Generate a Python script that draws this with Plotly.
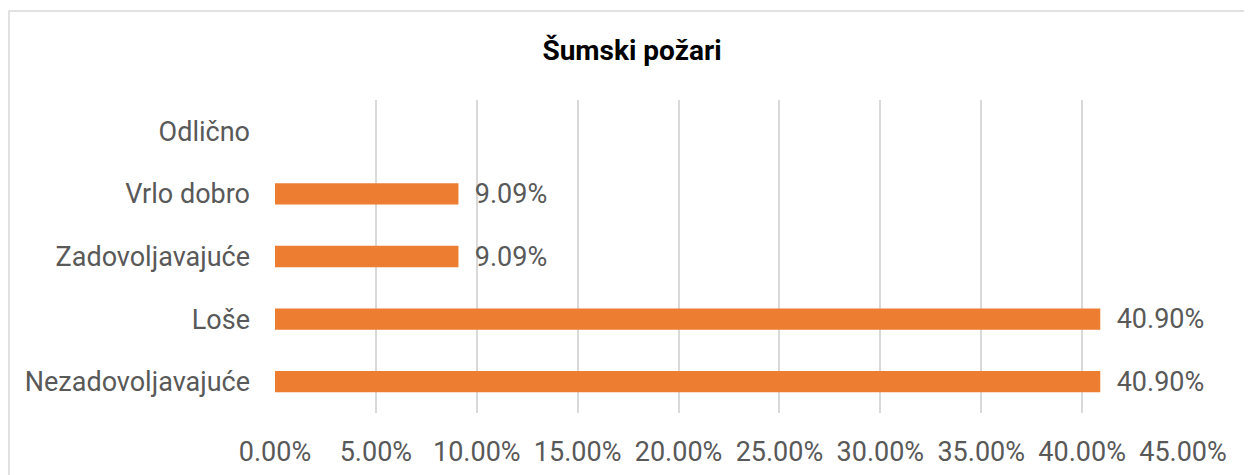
import plotly.graph_objects as go

categories = ["Nezadovoljavajuće", "Loše", "Zadovoljavajuće", "Vrlo dobro", "Odlično"]
values = [0.4090, 0.4090, 0.0909, 0.0909, None]
labels = ["40.90%", "40.90%", "9.09%", "9.09%", ""]
x_ticks = [0, 0.05, 0.10, 0.15, 0.20, 0.25, 0.30, 0.35, 0.40, 0.45]
title_text = "Šumski požari"

FONT = "Roboto"
GRAY = "#595959"
FS = 27

fig = go.Figure(
    go.Bar(
        y=categories,
        x=values,
        orientation="h",
        marker=dict(color="#ED7D31", line=dict(width=0)),
        width=0.34,
        text=["  " + t if t else "" for t in labels],
        textposition="outside",
        constraintext="none",
        textfont=dict(family=FONT, size=FS, color=GRAY),
        cliponaxis=False,
    )
)

# page body has an 8px margin: figure pixel = screenshot pixel - 8
OFF = 8
W, H = 1252, 475
L = 275 - OFF
T = 100 - OFF
R = W - (1183 - OFF)
B = H - (413 - OFF)
pw = W - L - R
ph = H - T - B

def px_x(p):
    return (p - OFF - L) / pw

def px_y(p):
    return (H - B - (p - OFF)) / ph

fig.add_shape(
    type="rect", xref="paper", yref="paper",
    x0=px_x(9), x1=px_x(1290), y0=px_y(520), y1=px_y(11),
    line=dict(color="#D9D9D9", width=1.5), fillcolor="rgba(0,0,0,0)", layer="below",
)

fig.update_layout(
    width=W, height=H,
    margin=dict(l=L, r=R, t=T, b=B, autoexpand=False),
    paper_bgcolor="white", plot_bgcolor="white",
    showlegend=False,
    title=dict(
        text="<b>" + title_text + "</b>",
        x=(632 - OFF) / W, xref="container", xanchor="center",
        y=1 - (50 - OFF) / H, yref="container", yanchor="middle",
        font=dict(family=FONT, size=28, color="black"),
    ),
    xaxis=dict(
        range=[0, 0.45],
        tickvals=x_ticks,
        tickformat=".2%",
        showgrid=True, gridcolor="#D9D9D9", gridwidth=1.5,
        zeroline=False, showline=False, automargin=False,
        ticks="", ticklabelstandoff=20,
        tickfont=dict(family=FONT, size=FS, color=GRAY),
    ),
    yaxis=dict(
        categoryorder="array", categoryarray=categories,
        showgrid=False, zeroline=False, showline=False, automargin=False,
        ticks="", ticklabelstandoff=24,
        tickfont=dict(family=FONT, size=FS, color=GRAY),
    ),
)

fig.write_html("out.html")
